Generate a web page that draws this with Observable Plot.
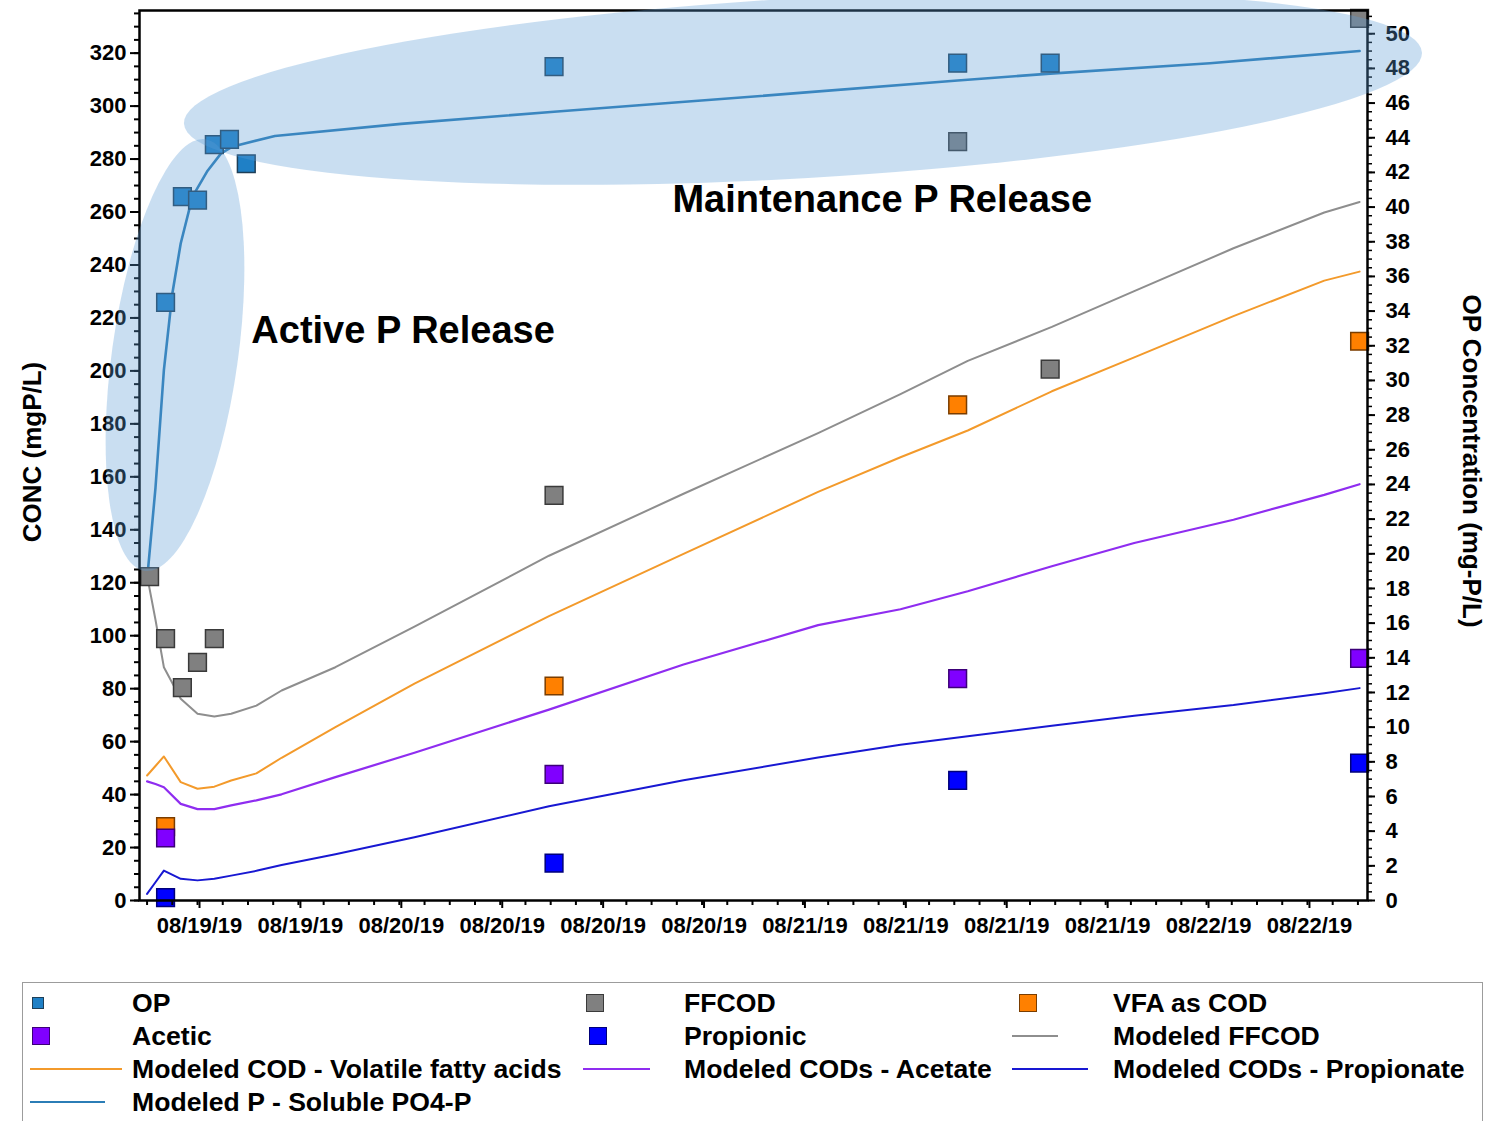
<!DOCTYPE html>
<html>
<head>
<meta charset="utf-8">
<script src="https://cdn.jsdelivr.net/npm/d3@7"></script>
<script src="https://cdn.jsdelivr.net/npm/@observablehq/plot@0.6"></script>
<style>
  body { margin: 0; background: #fff; font-family: "Liberation Sans", Arial, sans-serif; }
  #chart { position: relative; width: 1494px; height: 1121px; overflow: hidden; background: #fff; }
  #chart svg { position: absolute; left: 0; top: 0; }
  .legend-box { position: absolute; left: 22px; top: 982px; width: 1461px; height: 160px; border: 1.5px solid #9c9c9c; box-sizing: border-box; }
  .lg-text { position: absolute; font-size: 26.6px; font-weight: bold; line-height: 32px; white-space: nowrap; color: #000; }
  .lg-sq { position: absolute; box-sizing: border-box; }
  .lg-line { position: absolute; height: 0; }
</style>
</head>
<body>
<div id="chart"></div>
<script>
// ---------------- data (hours since 08/19/19 00:00) ----------------
// Measured OP (right axis, mg-P/L)
const opTime = [10.1, 11.1, 12.0, 13.0, 13.9, 14.9, 33.2, 57.2, 62.7];
const opVal  = [34.5, 40.6, 40.4, 43.6, 43.9, 42.5, 48.1, 48.3, 48.3];

// Measured FFCOD (left axis)
const ffcodTime = [9.15, 10.1, 11.1, 12.0, 13.0, 33.2, 57.2, 62.7, 81.1];
const ffcodVal  = [122.3, 98.9, 80.4, 89.9, 98.9, 153.0, 286.6, 200.7, 333.1];

// Measured VFA as COD, Acetic, Propionic (left axis)
const vfaTime = [10.1, 33.2, 57.2, 81.1];
const vfaVal  = [27.9, 81.0, 187.2, 211.2];
const aceticVal = [23.6, 47.6, 83.8, 91.4];
const propionicVal = [1.1, 14.1, 45.4, 51.9];

// Modeled COD series (left axis)
const modelTime = [9, 9.5, 10, 11, 12, 13, 14, 15.5, 17, 20.2, 24.9, 32.9, 40.9, 48.9, 53.8, 57.8, 62.8, 67.7, 73.6, 79, 81.1];
const modeledFFCOD = [122.7, 106, 88.1, 76.2, 70.5, 69.5, 70.5, 73.6, 79.3, 88.1, 103.4, 130.2, 153.6, 176.5, 191.2, 203.8, 216.6, 230.1, 246.3, 259.8, 263.8];
const modeledVFA   = [47.2, 50.8, 54.4, 44.7, 42.2, 43.0, 45.3, 48.0, 53.9, 65.5, 81.9, 107.4, 130.9, 154.3, 167.4, 177.5, 192.3, 205.1, 220.7, 234.1, 237.5];
const modeledAcetate = [45.0, 44.0, 42.8, 36.5, 34.5, 34.5, 35.9, 37.8, 40.1, 46.6, 55.8, 72.1, 89.1, 104.0, 110.0, 116.8, 126.2, 135.0, 143.8, 153.2, 157.2];
const modeledPropionate = [2.5, 6.9, 11.3, 8.2, 7.6, 8.2, 9.4, 11.2, 13.4, 17.5, 23.9, 35.6, 45.4, 54.0, 58.8, 62.0, 66.0, 69.8, 73.8, 78.3, 80.2];

// Modeled P - Soluble PO4-P (right axis, mg-P/L)
const pTime = [9, 9.5, 10, 10.5, 11, 11.7, 12.6, 13.4, 14.1, 16.6, 24.1, 33.2, 40, 48, 57.2, 62.7, 72.2, 81.1];
const pVal  = [18.5, 23.8, 30.6, 35.0, 37.9, 40.6, 42.1, 43.1, 43.5, 44.1, 44.8, 45.5, 46.0, 46.6, 47.3, 47.7, 48.3, 49.0];

// Axis ticks
const xTicks = [12, 18, 24, 30, 36, 42, 48, 54, 60, 66, 72, 78];
const xTickLabels = ["08/19/19", "08/19/19", "08/20/19", "08/20/19", "08/20/19", "08/20/19",
                     "08/21/19", "08/21/19", "08/21/19", "08/21/19", "08/22/19", "08/22/19"];
const leftTicks = [0, 20, 40, 60, 80, 100, 120, 140, 160, 180, 200, 220, 240, 260, 280, 300, 320];
const rightTicks = [0, 2, 4, 6, 8, 10, 12, 14, 16, 18, 20, 22, 24, 26, 28, 30, 32, 34, 36, 38, 40, 42, 44, 46, 48, 50];

// ---------------- scales ----------------
const leftMax = 336.1, rightMax = 51.34, k = leftMax / rightMax;
const xDomain = [8.55, 81.57];

const op = opTime.map((t, i) => ({t, v: opVal[i] * k}));
const ffcod = ffcodTime.map((t, i) => ({t, v: ffcodVal[i]}));
const vfa = vfaTime.map((t, i) => ({t, v: vfaVal[i]}));
const acetic = vfaTime.map((t, i) => ({t, v: aceticVal[i]}));
const propionic = vfaTime.map((t, i) => ({t, v: propionicVal[i]}));
const mFF = modelTime.map((t, i) => ({t, v: modeledFFCOD[i]}));
const mVFA = modelTime.map((t, i) => ({t, v: modeledVFA[i]}));
const mAc = modelTime.map((t, i) => ({t, v: modeledAcetate[i]}));
const mPr = modelTime.map((t, i) => ({t, v: modeledPropionate[i]}));
const mP = pTime.map((t, i) => ({t, v: pVal[i] * k}));

const C = {
  op: "#1f80c6", opStroke: "#1e3f58", pLine: "#2b7db6",
  ff: "#808080", ffStroke: "#3a3a3a", ffLine: "#8e8e8e",
  vfa: "#ff8000", vfaStroke: "#7a3d00", vfaLine: "#f39a2b",
  ac: "#8000ff", acStroke: "#3c0078", acLine: "#8f2df0",
  pr: "#0000ff", prStroke: "#00007a", prLine: "#1818d2"
};

const xMinor = d3.range(9, 81.6, 1.5);
const yMinor = d3.range(0, 336, 5);
const rMinor = d3.range(0, 51.3, 0.5).map(v => v * k);

const sq = (data, fill, stroke) => Plot.dot(data, {x: "t", y: "v", symbol: "square", r: 10, fill, stroke, strokeWidth: 1.5});

const plot = Plot.plot({
  width: 1494,
  height: 975,
  marginLeft: 139,
  marginRight: 127,
  marginTop: 10,
  marginBottom: 75,
  x: {domain: xDomain, axis: null},
  y: {domain: [0, leftMax], axis: null},
  style: {background: "white", color: "black", fontFamily: "'Liberation Sans', Arial, sans-serif", fontSize: "22px", fontWeight: "bold", overflow: "visible"},
  marks: [
    Plot.line(mFF, {x: "t", y: "v", stroke: C.ffLine, strokeWidth: 2}),
    Plot.line(mVFA, {x: "t", y: "v", stroke: C.vfaLine, strokeWidth: 2}),
    Plot.line(mAc, {x: "t", y: "v", stroke: C.acLine, strokeWidth: 2.2}),
    Plot.line(mPr, {x: "t", y: "v", stroke: C.prLine, strokeWidth: 2}),
    Plot.line(mP, {x: "t", y: "v", stroke: C.pLine, strokeWidth: 2.6}),
    sq(op, C.op, C.opStroke),
    sq(ffcod, C.ff, C.ffStroke),
    sq(vfa, C.vfa, C.vfaStroke),
    sq(acetic, C.ac, C.acStroke),
    sq(propionic, C.pr, C.prStroke),
    // axes
    Plot.axisX({ticks: xMinor, tickSize: 5, tickFormat: () => "", strokeWidth: 2, label: null}),
    Plot.axisX({ticks: xTicks, tickSize: 8, tickPadding: 9, tickFormat: d => xTickLabels[xTicks.indexOf(d)], strokeWidth: 2, label: null, dx: 2}),
    Plot.axisY({ticks: yMinor, tickSize: 5, tickFormat: () => "", strokeWidth: 2, label: null}),
    Plot.axisY({ticks: leftTicks, tickSize: 9, tickPadding: 4, strokeWidth: 2, label: null}),
    Plot.axisY({anchor: "right", ticks: rMinor, tickSize: 4, tickFormat: () => "", strokeWidth: 1.5, label: null}),
    Plot.axisY({anchor: "right", ticks: rightTicks.map(v => v * k), tickSize: 7, tickPadding: 11, tickFormat: d => String(Math.round(d / k)), strokeWidth: 2, label: null}),
    Plot.frame({stroke: "black", strokeWidth: 2.5}),
    // annotations
    Plot.text([{t: 15.2, v: 215.3, s: "Active P Release"}], {x: "t", y: "v", text: "s", textAnchor: "start", fontSize: 38, fontWeight: "bold", fill: "black"}),
    Plot.text([{t: 40.24, v: 264.7, s: "Maintenance P Release"}], {x: "t", y: "v", text: "s", textAnchor: "start", fontSize: 38, fontWeight: "bold", fill: "black"})
  ]
});

const chart = document.getElementById("chart");
chart.appendChild(plot);

// highlight ellipses (annotation) positioned through the scales
const sx = plot.scale("x"), sy = plot.scale("y");
const svg = d3.select(plot);
const eg = svg.append("g");
[
  {t: 10.69, v: 205.8, rx: 63, ry: 218, rot: 8},
  {t: 48.03, v: 306.6, rx: 620, ry: 90, rot: -3.3}
].forEach(e => {
  eg.append("ellipse")
    .attr("rx", e.rx).attr("ry", e.ry)
    .attr("transform", `translate(${sx.apply(e.t)},${sy.apply(e.v)}) rotate(${e.rot})`)
    .attr("fill", "#5b9bd5").attr("fill-opacity", 0.33);
});

// axis titles
svg.append("text").text("CONC (mgP/L)")
  .attr("transform", "translate(41,452) rotate(-90)")
  .attr("text-anchor", "middle").attr("font-size", 26).attr("font-weight", "bold").attr("fill", "black");
svg.append("text").text("OP Concentration (mg-P/L)")
  .attr("transform", "translate(1463,461) rotate(90)")
  .attr("text-anchor", "middle").attr("font-size", 26).attr("font-weight", "bold").attr("fill", "black");

// ---------------- legend (HTML, below the SVG) ----------------
const box = document.createElement("div");
box.className = "legend-box";
chart.appendChild(box);

const rowsY = [1003, 1036, 1069, 1102];
const textX = [132, 684, 1113];
const legendItems = [
  {label: "OP", type: "sq", col: 0, row: 0, cx: 38, size: 12, fill: C.op, stroke: C.opStroke},
  {label: "FFCOD", type: "sq", col: 1, row: 0, cx: 595, size: 18, fill: C.ff, stroke: C.ffStroke},
  {label: "VFA as COD", type: "sq", col: 2, row: 0, cx: 1028, size: 18, fill: C.vfa, stroke: C.vfaStroke},
  {label: "Acetic", type: "sq", col: 0, row: 1, cx: 41, size: 18, fill: C.ac, stroke: C.acStroke},
  {label: "Propionic", type: "sq", col: 1, row: 1, cx: 598, size: 18, fill: C.pr, stroke: C.prStroke},
  {label: "Modeled FFCOD", type: "line", col: 2, row: 1, x0: 1012, x1: 1058, stroke: C.ffLine},
  {label: "Modeled COD - Volatile fatty acids", type: "line", col: 0, row: 2, x0: 30, x1: 122, stroke: C.vfaLine},
  {label: "Modeled CODs - Acetate", type: "line", col: 1, row: 2, x0: 583, x1: 650, stroke: C.acLine},
  {label: "Modeled CODs - Propionate", type: "line", col: 2, row: 2, x0: 1012, x1: 1088, stroke: C.prLine},
  {label: "Modeled P - Soluble PO4-P", type: "line", col: 0, row: 3, x0: 30, x1: 105, stroke: C.pLine}
];
legendItems.forEach(it => {
  const y = rowsY[it.row];
  if (it.type === "sq") {
    const d = document.createElement("div");
    d.className = "lg-sq";
    Object.assign(d.style, {left: (it.cx - it.size / 2) + "px", top: (y - it.size / 2) + "px", width: it.size + "px", height: it.size + "px", background: it.fill, border: "1.5px solid " + it.stroke});
    chart.appendChild(d);
  } else {
    const d = document.createElement("div");
    d.className = "lg-line";
    Object.assign(d.style, {left: it.x0 + "px", top: (y - 1) + "px", width: (it.x1 - it.x0) + "px", borderTop: "2.5px solid " + it.stroke});
    chart.appendChild(d);
  }
  const t = document.createElement("div");
  t.className = "lg-text";
  t.textContent = it.label;
  Object.assign(t.style, {left: textX[it.col] + "px", top: (y - 16) + "px"});
  chart.appendChild(t);
});
</script>
</body>
</html>
